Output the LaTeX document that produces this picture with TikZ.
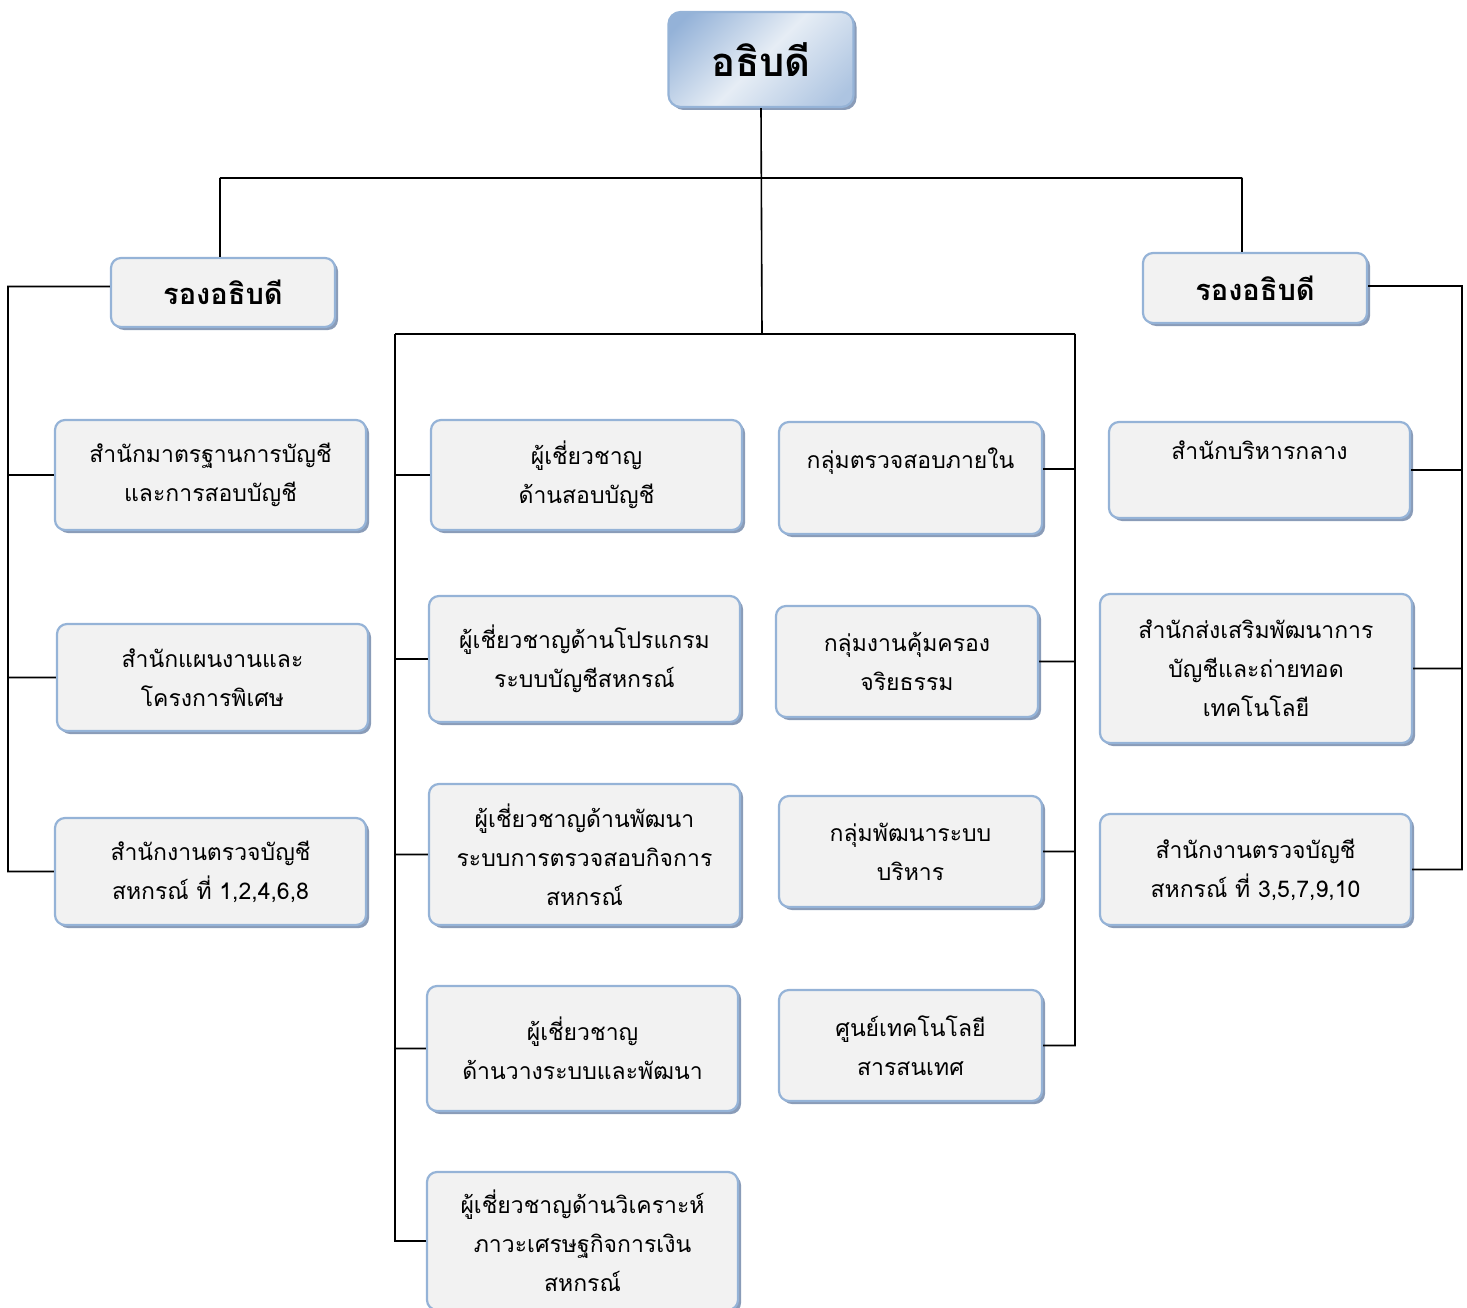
\documentclass[tikz,border=0pt]{standalone}
\usepackage{fontspec}
\usepackage{tikz}
\usetikzlibrary{shadows}
\newfontfamily\thaifont[Script=Thai]{Loma}
\definecolor{boxfill}{HTML}{F2F2F2}
\definecolor{boxline}{HTML}{95B3D7}
\definecolor{boxshade}{HTML}{8A9CB8}
\definecolor{headblue}{HTML}{94B2D8}
\definecolor{headpale}{HTML}{E6EDF5}
\pgfdeclarehorizontalshading{headshade}{100bp}{color(0bp)=(headblue); color(20bp)=(headblue); color(50bp)=(headpale); color(80bp)=(headblue!70!headpale); color(100bp)=(headblue!70!headpale)}

\begin{document}
\begin{tikzpicture}[x=1pt,y=-1pt,
	unit/.style={draw=boxline,line width=2.2pt,fill=boxfill,rounded corners=10pt,align=center,inner sep=0pt,
		font=\thaifont\fontsize{23}{39}\selectfont,
		drop shadow={shadow xshift=3pt,shadow yshift=-3pt,fill=boxshade,opacity=1}},
	deputy/.style={unit,font=\thaifont\bfseries\fontsize{29}{34}\selectfont},
	chief/.style={draw=boxline,line width=2.2pt,rounded corners=12pt,inner sep=0pt,
		shading=headshade,shading angle=-45,shade,
		font=\thaifont\bfseries\fontsize{40}{46}\selectfont},
	conn/.style={draw,line width=1.6pt}]
	\useasboundingbox (0,0) rectangle (1467,1308);

		\node[chief,minimum width=185pt,minimum height=95pt,
			drop shadow={shadow xshift=3pt,shadow yshift=-3pt,fill=boxshade,opacity=1}]	(dirg)	at (761,59.5)	{อธิบดี};
		\node[deputy,minimum width=224pt,minimum height=69pt]	(dpyl)	at (223,292.5)	{รองอธิบดี};
		\node[deputy,minimum width=224pt,minimum height=70pt]	(dpyr)	at (1255,288)	{รองอธิบดี};

		\node[unit,minimum width=311pt,minimum height=110pt]	(stnd)	at (210.5,475)	{สำนักมาตรฐานการบัญชี\\และการสอบบัญชี};
		\node[unit,minimum width=311pt,minimum height=107pt]	(plan)	at (212.5,677.5)	{สำนักแผนงานและ\\โครงการพิเศษ};
		\node[unit,minimum width=311pt,minimum height=107pt]	(audl)	at (210.5,871.5)	{สำนักงานตรวจบัญชี\\สหกรณ์ ที่ 1,2,4,6,8};

		\node[unit,minimum width=311pt,minimum height=110pt]	(xaud)	at (586.5,475)	{ผู้เชี่ยวชาญ\\ด้านสอบบัญชี};
		\node[unit,minimum width=311pt,minimum height=126pt]	(xprg)	at (584.5,659)	{ผู้เชี่ยวชาญด้านโปรแกรม\\ระบบบัญชีสหกรณ์};
		\node[unit,minimum width=311pt,minimum height=141pt]	(xdev)	at (584.5,854.5)	{ผู้เชี่ยวชาญด้านพัฒนา\\ระบบการตรวจสอบกิจการ\\สหกรณ์};
		\node[unit,minimum width=311pt,minimum height=125pt]	(xsys)	at (582.5,1048.5)	{ผู้เชี่ยวชาญ\\ด้านวางระบบและพัฒนา};
		\node[unit,minimum width=311pt,minimum height=138pt]	(xeco)	at (582.5,1241)	{ผู้เชี่ยวชาญด้านวิเคราะห์\\ภาวะเศรษฐกิจการเงิน\\สหกรณ์};

		\node[unit,minimum width=263pt,minimum height=112pt]	(inau)	at (910.5,478)	{กลุ่มตรวจสอบภายใน\\~};
		\node[unit,minimum width=262pt,minimum height=111pt]	(ethc)	at (907,661.5)	{กลุ่มงานคุ้มครอง\\จริยธรรม};
		\node[unit,minimum width=263pt,minimum height=111pt]	(mgmt)	at (910.5,851.5)	{กลุ่มพัฒนาระบบ\\บริหาร};
		\node[unit,minimum width=263pt,minimum height=111pt]	(itec)	at (910.5,1045.5)	{ศูนย์เทคโนโลยี\\สารสนเทศ};

		\node[unit,minimum width=301pt,minimum height=96pt]	(admn)	at (1259.5,470)	{สำนักบริหารกลาง\\~};
		\node[unit,minimum width=312pt,minimum height=149pt]	(prom)	at (1256,668.5)	{สำนักส่งเสริมพัฒนาการ\\บัญชีและถ่ายทอด\\เทคโนโลยี};
		\node[unit,minimum width=311pt,minimum height=111pt]	(audr)	at (1255.5,869.5)	{สำนักงานตรวจบัญชี\\สหกรณ์ ที่ 3,5,7,9,10};

		\coordinate	(tl)	at (220,178);
		\coordinate	(tr)	at (1242,178);
		\coordinate	(hub)	at (762,334);
		\coordinate	(ml)	at (395,334);
		\coordinate	(mr)	at (1075,334);
		\coordinate	(lb)	at (8,286);
		\coordinate	(rb)	at (1462,286);

		\path[conn]
		(dirg.south)	--	(hub)
		(tl)		--	(tr)
		(tl)		--	(tl |- dpyl.north)
		(tr)		--	(tr |- dpyr.north)
		([yshift=6pt]dpyl.west)	-|	(lb |- audl.west)	--	(audl.west)
		(stnd.west)	--	(stnd.west -| lb)
		(plan.west)	--	(plan.west -| lb)
		([yshift=2pt]dpyr.east)	-|	(rb |- audr.east)	--	(audr.east)
		(admn.east)	--	(admn.east -| rb)
		(prom.east)	--	(prom.east -| rb)
		(ml)		--	(mr)
		(ml)		--	(ml |- xeco.west)	--	(xeco.west)
		(xaud.west)	--	(xaud.west -| ml)
		(xprg.west)	--	(xprg.west -| ml)
		(xdev.west)	--	(xdev.west -| ml)
		(xsys.west)	--	(xsys.west -| ml)
		(mr)		--	(mr |- itec.east)	--	(itec.east)
		([yshift=9pt]inau.east)	--	([yshift=9pt]inau.east -| mr)
		(ethc.east)	--	(ethc.east -| mr)
		(mgmt.east)	--	(mgmt.east -| mr)
		;
\end{tikzpicture}
\end{document}
